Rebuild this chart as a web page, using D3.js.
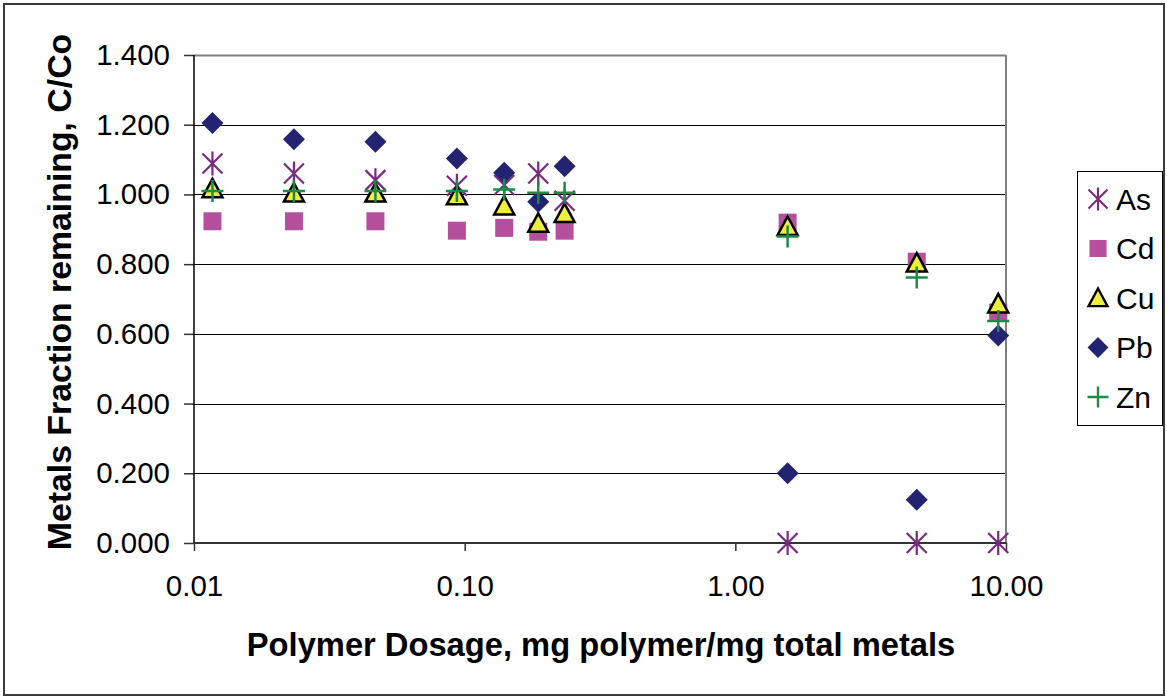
<!DOCTYPE html>
<html>
<head>
<meta charset="utf-8">
<script src="https://cdn.jsdelivr.net/npm/d3@7"></script>
<style>
  body { margin: 0; background: #fff; }
  text { font-family: "Liberation Sans", Arial, sans-serif; fill: #000; }
</style>
</head>
<body>
<div id="chart"></div>
<script>
// data
const doses = [0.0117, 0.0234, 0.0468, 0.0936, 0.140, 0.187, 0.234, 1.56, 4.68, 9.36];
const asVals = [1.089, 1.060, 1.041, 1.025, 1.027, 1.060, 0.982, 0.000, 0.000, 0.000];
const cdVals = [0.923, 0.923, 0.923, 0.896, 0.904, 0.893, 0.896, 0.919, 0.807, 0.661];
const cuVals = [1.016, 1.004, 1.004, 0.996, 0.967, 0.917, 0.945, 0.908, 0.803, 0.686];
const pbVals = [1.205, 1.158, 1.151, 1.103, 1.062, 0.979, 1.081, 0.200, 0.124, 0.595];
const znVals = [1.010, 1.010, 1.010, 1.010, 1.014, 1.005, 1.005, 0.879, 0.762, 0.637];

const seriesNames = ["As", "Cd", "Cu", "Pb", "Zn"];
const yTicks = [0, 0.2, 0.4, 0.6, 0.8, 1.0, 1.2, 1.4];
const xTicks = [0.01, 0.1, 1, 10];

const svgWidth = 1167;
const svgHeight = 700;

const margin = { top: 55, right: 161, bottom: 157, left: 194 };
const chartWidth = svgWidth - margin.left - margin.right;
const chartHeight = svgHeight - margin.top - margin.bottom;

const svg = d3.select("#chart")
  .append("svg")
  .attr("width", svgWidth)
  .attr("height", svgHeight);

// outer chart border
svg.append("rect")
  .attr("x", 4).attr("y", 4)
  .attr("width", 1160).attr("height", 691)
  .attr("fill", "none")
  .attr("stroke", "#3a3a3a")
  .attr("stroke-width", 2);

const chartGroup = svg.append("g")
  .attr("transform", `translate(${margin.left}, ${margin.top})`);

const xScale = d3.scaleLog()
  .domain([0.01, 10])
  .range([0, chartWidth]);

const yScale = d3.scaleLinear()
  .domain([0, 1.4])
  .range([chartHeight, 0]);

// gridlines
chartGroup.append("g")
  .selectAll("line")
  .data(yTicks.slice(1))
  .enter()
  .append("line")
  .attr("x1", 0)
  .attr("x2", chartWidth)
  .attr("y1", d => Math.round(yScale(d)) + 0.5)
  .attr("y2", d => Math.round(yScale(d)) + 0.5)
  .attr("stroke", d => d === 1.4 ? "#808080" : "#000")
  .attr("stroke-width", d => d === 1.4 ? 2 : 1.2);

// right border of plot area
chartGroup.append("line")
  .attr("x1", chartWidth).attr("x2", chartWidth)
  .attr("y1", 0).attr("y2", chartHeight)
  .attr("stroke", "#808080")
  .attr("stroke-width", 2);

// axes
const leftAxis = d3.axisLeft(yScale)
  .tickValues(yTicks)
  .tickFormat(d3.format(".3f"))
  .tickSize(10)
  .tickPadding(14);

const bottomAxis = d3.axisBottom(xScale)
  .tickValues(xTicks)
  .tickFormat(d3.format(".2f"))
  .tickSize(8)
  .tickPadding(24);

const yAxisG = chartGroup.append("g").call(leftAxis);
const xAxisG = chartGroup.append("g")
  .attr("transform", `translate(0, ${chartHeight})`)
  .call(bottomAxis);

yAxisG.select(".domain").remove();
xAxisG.select(".domain").remove();

chartGroup.append("line")
  .attr("x1", 0).attr("x2", 0)
  .attr("y1", 0).attr("y2", chartHeight)
  .attr("stroke", "#000").attr("stroke-width", 1.5);
chartGroup.append("line")
  .attr("x1", 0).attr("x2", chartWidth)
  .attr("y1", chartHeight).attr("y2", chartHeight)
  .attr("stroke", "#333").attr("stroke-width", 2);

[yAxisG, xAxisG].forEach(g => {
  g.selectAll(".tick line").attr("stroke", "#333").attr("stroke-width", 1.5);
  g.selectAll(".tick text")
    .attr("font-size", 29.5)
    .attr("font-family", "'Liberation Sans', Arial, sans-serif")
    .attr("fill", "#000");
});

// marker shapes
function markerPath(shape) {
  if (shape === "square") return "M-9,-9H9V9H-9Z";
  if (shape === "diamond") return "M0,-11L11,0L0,11L-11,0Z";
  if (shape === "triangle") return "M0,-10L10,8.5H-10Z";
  if (shape === "star") return "M-10,-10L10,10M10,-10L-10,10M0,-12V12";
  if (shape === "plus") return "M-11,0H11M0,-11V11";
}

const seriesStyle = {
  As: { shape: "star", fill: "none", stroke: "#7a2a82", width: 2.2 },
  Cd: { shape: "square", fill: "#b4509e", stroke: "none", width: 0 },
  Cu: { shape: "triangle", fill: "#eeee3c", stroke: "#000", width: 2.5 },
  Pb: { shape: "diamond", fill: "#232372", stroke: "none", width: 0 },
  Zn: { shape: "plus", fill: "none", stroke: "#1e8a4a", width: 2.5 }
};

const seriesValues = {
  As: asVals, Cd: cdVals, Cu: cuVals, Pb: pbVals, Zn: znVals
};

seriesNames.forEach(name => {
  const st = seriesStyle[name];
  const pts = doses.map((d, i) => ({ x: d, y: seriesValues[name][i] }));
  chartGroup.append("g")
    .selectAll("path")
    .data(pts)
    .enter()
    .append("path")
    .attr("transform", d => `translate(${xScale(d.x)}, ${yScale(d.y)})`)
    .attr("d", markerPath(st.shape))
    .attr("fill", st.fill)
    .attr("stroke", st.stroke)
    .attr("stroke-width", st.width)
    .attr("stroke-linejoin", "miter");
});

// legend
const legend = svg.append("g");
legend.append("rect")
  .attr("x", 1077.5).attr("y", 171.5)
  .attr("width", 85).attr("height", 254)
  .attr("fill", "#fff")
  .attr("stroke", "#000")
  .attr("stroke-width", 1);

seriesNames.forEach((name, i) => {
  const st = seriesStyle[name];
  const cy = 199 + i * 49.5;
  legend.append("path")
    .attr("transform", `translate(1098, ${cy}) scale(0.95)`)
    .attr("d", markerPath(st.shape))
    .attr("fill", st.fill)
    .attr("stroke", st.stroke)
    .attr("stroke-width", st.width);
  legend.append("text")
    .attr("x", 1116)
    .attr("y", cy)
    .attr("dy", "0.36em")
    .attr("font-size", 30)
    .text(name);
});

// axis labels
svg.append("text")
  .attr("x", 601)
  .attr("y", 656)
  .attr("text-anchor", "middle")
  .attr("font-size", 32.7)
  .attr("font-weight", "bold")
  .text("Polymer Dosage, mg polymer/mg total metals");

svg.append("text")
  .attr("transform", "translate(71, 292) rotate(-90)")
  .attr("text-anchor", "middle")
  .attr("font-size", 33.8)
  .attr("font-weight", "bold")
  .text("Metals Fraction remaining, C/Co");
</script>
</body>
</html>
